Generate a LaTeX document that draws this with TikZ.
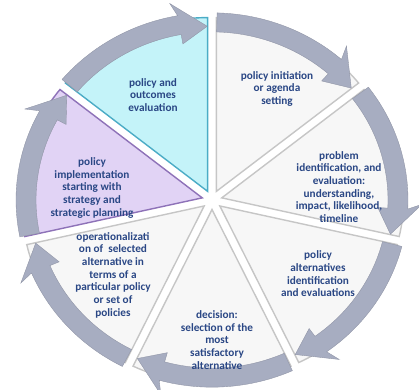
\documentclass[tikz,border=0pt]{standalone}
\usepackage{fontspec}
\setmainfont{Carlito}
\usetikzlibrary{positioning}
\definecolor{ringgray}{HTML}{A7ADC1}
\definecolor{txtblue}{HTML}{2A4785}
\definecolor{evalcyan}{HTML}{C4F3F9}
\definecolor{evaledge}{HTML}{4BACC6}
\definecolor{implpurple}{HTML}{E1D3F5}
\definecolor{impledge}{HTML}{8E72B8}

\begin{document}
\begin{tikzpicture}[
    x=0.03cm, y=0.03cm,
    slice/.style={line width=1.2pt},
    ringarrow/.style={fill=ringgray, draw=ringgray!85!black, line width=0.3pt},
    stagetext/.style={align=center, text=txtblue, inner sep=0pt, font=\fontsize{9.6}{10.8}\selectfont\bfseries}
]
\useasboundingbox (0,0) rectangle (419,389);

\begin{scope}[shift={(212,189)}, yscale=0.955]
% pie slices, clockwise from the top
\foreach \k/\fc/\dc in {0/gray!6/gray!45, 1/gray!6/gray!45, 2/gray!6/gray!45, 3/gray!6/gray!45,
                        4/gray!6/gray!45, 5/implpurple/impledge, 6/evalcyan/evaledge} {
  \pgfmathsetmacro{\a}{90-360/7*\k}
  \pgfmathsetmacro{\b}{\a-360/7}
  \pgfmathsetmacro{\m}{\a-180/7}
  \path[slice, fill=\fc, draw=\dc] (\m:10) -- ++(\a:182) arc[start angle=\a, end angle=\b, radius=182] -- cycle;
}
% curved arrows round the rim
\foreach \k in {0,...,6} {
  \pgfmathsetmacro{\s}{90-360/7*\k-1.5}
  \pgfmathsetmacro{\t}{90-360/7*(\k+1)+1.5}
  \pgfmathsetmacro{\h}{\t+8.6}
  \path[ringarrow] (\s:196) arc[start angle=\s, end angle=\h, radius=196]
    -- (\h+1.5:210) -- (\t:182) -- (\h:166) -- (\h:176)
    arc[start angle=\h, end angle=\s, radius=176] -- cycle;
}
\end{scope}

\node[stagetext] (evaluation) at (153,294) {policy and\\outcomes\\evaluation};
\node[stagetext] (initiation) at (277,300) {policy initiation\\or agenda\\setting};
\node[stagetext] (problem) at (339,202) {problem\\identification, and\\evaluation:\\understanding,\\impact, likelihood,\\timeline};
\node[stagetext] (alternatives) at (318,115) {policy\\alternatives\\identification\\and evaluations};
\node[stagetext] (decision) at (217,49) {decision:\\selection of the\\most\\satisfactory\\alternative};
\node[stagetext] (operational) at (113,114) {operationalizati\\on of~ selected\\alternative in\\terms of a\\particular policy\\or set of\\policies};
\node[stagetext] (implementation) at (92,201) {policy\\implementation\\starting with\\strategy and\\strategic planning};
\end{tikzpicture}
\end{document}
